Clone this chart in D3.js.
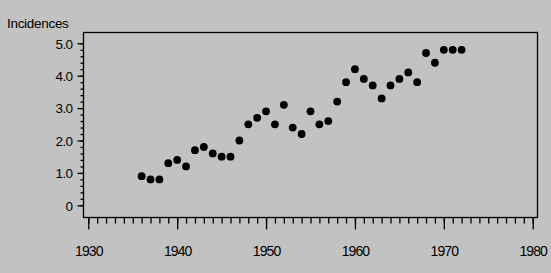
<!DOCTYPE html>
<html>
<head>
<meta charset="utf-8">
<script src="https://cdn.jsdelivr.net/npm/d3@7"></script>
<style>
  html, body { margin: 0; padding: 0; background: #c2c2c2; }
  svg { display: block; }
  text { font-family: "Liberation Sans", Arial, sans-serif; fill: #000; }
</style>
</head>
<body>
<div id="chart"></div>
<script>
const width = 551;
const height = 273;

// data
const years = [1936, 1937, 1938, 1939, 1940, 1941, 1942, 1943, 1944, 1945, 1946, 1947,
    1948, 1949, 1950, 1951, 1952, 1953, 1954, 1955, 1956, 1957, 1958, 1959, 1960,
    1961, 1962, 1963, 1964, 1965, 1966, 1967, 1968, 1969, 1970, 1971, 1972];
const incidences = [0.9, 0.8, 0.8, 1.3, 1.4, 1.2, 1.7, 1.8, 1.6, 1.5, 1.5, 2.0,
    2.5, 2.7, 2.9, 2.5, 3.1, 2.4, 2.2, 2.9, 2.5, 2.6, 3.2, 3.8, 4.2,
    3.9, 3.7, 3.3, 3.7, 3.9, 4.1, 3.8, 4.7, 4.4, 4.8, 4.8, 4.8];
const xTicks = [1930, 1940, 1950, 1960, 1970, 1980];
const yTicks = [0, 1, 2, 3, 4, 5];
const yTickLabels = ["0", "1.0", "2.0", "3.0", "4.0", "5.0"];

// frame
const frame = { left: 83, right: 537, top: 32, bottom: 217 };

const svg = d3.select("#chart")
    .append("svg")
    .attr("width", width)
    .attr("height", height);

svg.append("rect")
    .attr("width", width)
    .attr("height", height)
    .attr("fill", "#c2c2c2");

const x = d3.scaleLinear()
    .domain([1930, 1980])
    .range([88.3, 532.7]);

const y = d3.scaleLinear()
    .domain([0, 5])
    .range([205.3, 43.3]);

// plot box
svg.append("rect")
    .attr("x", frame.left + 0.5)
    .attr("y", frame.top + 0.5)
    .attr("width", frame.right - frame.left)
    .attr("height", frame.bottom - frame.top)
    .attr("fill", "none")
    .attr("stroke", "#000")
    .attr("stroke-width", 1.3);

// x axis: minor ticks every year, majors every 10
const xMinor = d3.range(1930, 1981, 1);
const xAxisMinor = d3.axisBottom(x).tickValues(xMinor).tickSize(6).tickFormat("");
const xAxisMajor = d3.axisBottom(x).tickValues(xTicks).tickSize(12).tickFormat(d3.format("d")).tickPadding(4);

const gxm = svg.append("g")
    .attr("transform", `translate(0,${frame.bottom + 0.5})`)
    .call(xAxisMinor);
const gx = svg.append("g")
    .attr("transform", `translate(0,${frame.bottom + 0.5})`)
    .call(xAxisMajor);

[gxm, gx].forEach(g => {
    g.select(".domain").remove();
    g.selectAll(".tick line").attr("stroke", "#000").attr("stroke-width", 1.3);
});
gx.selectAll(".tick text")
    .attr("y", 38)
    .attr("dy", 0)
    .style("font-size", "14px")
    .style("letter-spacing", "-0.9px")
    .attr("fill", "#000");

// y axis: minor ticks every 0.2
const yMinor = d3.range(0, 26).map(i => i * 0.2);
const yAxisMinor = d3.axisLeft(y).tickValues(yMinor).tickSize(3).tickFormat("");
const yAxisMajor = d3.axisLeft(y).tickValues(yTicks).tickSize(6)
    .tickFormat((d, i) => yTickLabels[i]).tickPadding(5);

const gym = svg.append("g")
    .attr("transform", `translate(${frame.left + 0.5},0)`)
    .call(yAxisMinor);
const gy = svg.append("g")
    .attr("transform", `translate(${frame.left + 0.5},0)`)
    .call(yAxisMajor);

[gym, gy].forEach(g => {
    g.select(".domain").remove();
    g.selectAll(".tick line").attr("stroke", "#000").attr("stroke-width", 1.3);
});
gy.selectAll(".tick text")
    .attr("dy", "0.36em")
    .style("font-size", "13.5px")
    .style("letter-spacing", "-0.6px")
    .attr("fill", "#000");

// axis title
svg.append("text")
    .attr("x", 7)
    .attr("y", 28)
    .style("font-size", "13.5px")
    .style("letter-spacing", "-0.3px")
    .text("Incidences");

// points
svg.append("g")
    .selectAll("circle")
    .data(years.map((yr, i) => ({ yr, v: incidences[i] })))
    .enter().append("circle")
    .attr("cx", d => x(d.yr))
    .attr("cy", d => y(d.v))
    .attr("r", 3.9)
    .attr("fill", "#000");
</script>
</body>
</html>
